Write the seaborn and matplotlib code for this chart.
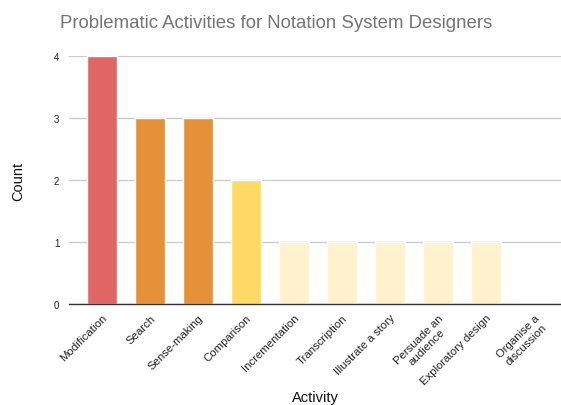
import matplotlib
matplotlib.use("Agg")
import matplotlib.pyplot as plt
import seaborn as sns
import pandas as pd

# Data
activities = ["Modification", "Search", "Sense-making", "Comparison", "Incrementation",
              "Transcription", "Illustrate a story", "Persuade an\naudience",
              "Exploratory design", "Organise a\ndiscussion"]
counts = [4, 3, 3, 2, 1, 1, 1, 1, 1, 0]
bar_colors = ["#e06666", "#e69138", "#e69138", "#ffd966", "#fff2cc",
              "#fff2cc", "#fff2cc", "#fff2cc", "#fff2cc", "#fff2cc"]

df = pd.DataFrame({"Activity": activities, "Count": counts})

sns.set_style("white")
plt.rcParams["font.family"] = ["Liberation Sans", "DejaVu Sans"]

fig = plt.figure(figsize=(5.61, 4.06), dpi=100)
ax = fig.add_axes([69 / 561, 1 - 305 / 406, (561 - 69) / 561, (305 - 57) / 406])

sns.barplot(data=df, x="Activity", y="Count", hue="Activity", palette=bar_colors,
            legend=False, width=0.64, saturation=1, ax=ax, zorder=3)

ax.set_ylim(0, 4)
ax.set_xlim(-0.69, 9.56)
ax.set_yticks([0, 1, 2, 3, 4])
ax.yaxis.grid(True, color="#cccccc", linewidth=1, zorder=0)
for s in ["top", "right", "left"]:
    ax.spines[s].set_visible(False)
ax.spines["bottom"].set_color("#333333")
ax.spines["bottom"].set_linewidth(1)
ax.spines["bottom"].set_zorder(4)

ax.tick_params(axis="y", length=0, labelsize=7, pad=7, labelcolor="#222222")
ax.tick_params(axis="x", length=0, labelsize=8.2, pad=6, labelcolor="#222222")
plt.setp(ax.get_xticklabels(), rotation=45, ha="right", rotation_mode="anchor",
         multialignment="center")

ax.set_xlabel("Activity", fontsize=10.5, color="#111111")
ax.set_ylabel("Count", fontsize=10.5, color="#111111")
ax.xaxis.set_label_coords(0.5, -(398 - 305) / 248)
ax.yaxis.set_label_coords((18 - 69) / 492, 0.5)
ax.xaxis.label.set_va("center")
ax.yaxis.label.set_va("center")
fig.text(276 / 561, 1 - 24 / 406, "Problematic Activities for Notation System Designers",
         ha="center", va="center", fontsize=13.4, color="#757575")

fig.savefig("out.png", dpi=100)
